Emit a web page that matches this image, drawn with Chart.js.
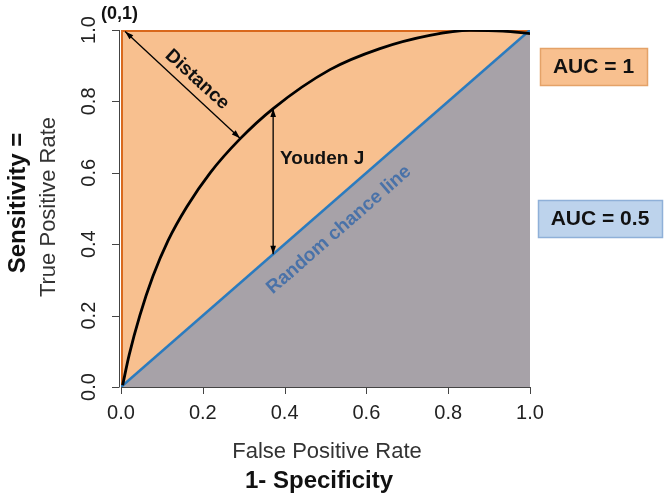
<!DOCTYPE html>
<html>
<head>
<meta charset="utf-8">
<script src="https://cdn.jsdelivr.net/npm/chart.js@4.4.1/dist/chart.umd.min.js"></script>
<style>
  html, body { margin: 0; padding: 0; background: #fff; }
  #wrap { width: 669px; height: 496px; }
</style>
</head>
<body>
<div id="wrap"><canvas id="roc" width="669" height="496"></canvas></div>
<script>
// Data
const tickValues = [0, 0.2, 0.4, 0.6, 0.8, 1.0];
const tickLabels = ['0.0', '0.2', '0.4', '0.6', '0.8', '1.0'];

const rocFpr = [0.004, 0.02, 0.046, 0.078, 0.115, 0.161, 0.218, 0.291, 0.372, 0.511, 0.633, 0.755, 0.853, 0.934, 1.0];
const rocTpr = [0.005, 0.09, 0.2, 0.31, 0.41, 0.505, 0.6, 0.695, 0.78, 0.889, 0.948, 0.985, 0.999, 0.997, 0.99];

const chanceFpr = [0, 1];
const chanceTpr = [0, 1];

const perfectFpr = [0, 0, 1];
const perfectTpr = [0, 1, 1];

const youdenFpr = [0.372, 0.372];
const youdenTpr = [0.78, 0.372];

const distanceFpr = [0.01, 0.291];
const distanceTpr = [0.996, 0.697];

// Colours
const PEACH = '#f8c08f';
const GREY = '#a7a2a8';
const ORANGE = '#d9681c';
const BLUE = '#2b7bbf';
const FONT = "'Liberation Sans', Arial, sans-serif";

const pts = (xs, ys) => xs.map((x, i) => ({ x, y: ys[i] }));

// arrow head at (x1,y1) pointing away from (x0,y0)
function head(ctx, x0, y0, x1, y1) {
  const a = Math.atan2(y1 - y0, x1 - x0);
  const len = 9, w = 0.32;
  ctx.beginPath();
  ctx.moveTo(x1, y1);
  ctx.lineTo(x1 - len * Math.cos(a - w), y1 - len * Math.sin(a - w));
  ctx.lineTo(x1 - len * Math.cos(a + w), y1 - len * Math.sin(a + w));
  ctx.closePath();
  ctx.fill();
}

const decorations = {
  id: 'decorations',
  afterDatasetsDraw(chart) {
    const { ctx, chartArea, scales } = chart;
    const xs = scales.x, ys = scales.y;
    const left = chartArea.left, bottom = chartArea.bottom, top = chartArea.top;
    ctx.save();

    // arrow heads
    ctx.fillStyle = '#000';
    const arrows = [[youdenFpr, youdenTpr], [distanceFpr, distanceTpr]];
    arrows.forEach(([ax, ay]) => {
      const x0 = xs.getPixelForValue(ax[0]), y0 = ys.getPixelForValue(ay[0]);
      const x1 = xs.getPixelForValue(ax[1]), y1 = ys.getPixelForValue(ay[1]);
      head(ctx, x0, y0, x1, y1);
      head(ctx, x1, y1, x0, y0);
    });

    // axes
    ctx.strokeStyle = '#444';
    ctx.lineWidth = 1;
    ctx.beginPath();
    ctx.moveTo(xs.getPixelForValue(0), bottom + 0.5);
    ctx.lineTo(xs.getPixelForValue(1), bottom + 0.5);
    tickValues.forEach(v => {
      const px = Math.round(xs.getPixelForValue(v)) + 0.5;
      ctx.moveTo(px, bottom);
      ctx.lineTo(px, bottom + 7);
    });
    ctx.moveTo(left - 1.5, ys.getPixelForValue(0));
    ctx.lineTo(left - 1.5, ys.getPixelForValue(1));
    tickValues.forEach(v => {
      const py = Math.round(ys.getPixelForValue(v)) + 0.5;
      ctx.moveTo(left - 1.5, py);
      ctx.lineTo(left - 9, py);
    });
    ctx.stroke();

    // tick labels
    ctx.fillStyle = '#222';
    ctx.font = '20px ' + FONT;
    ctx.textAlign = 'center';
    ctx.textBaseline = 'middle';
    tickValues.forEach((v, i) => {
      ctx.fillText(tickLabels[i], xs.getPixelForValue(v), bottom + 26);
      ctx.save();
      ctx.translate(left - 32, ys.getPixelForValue(v));
      ctx.rotate(-Math.PI / 2);
      ctx.fillText(tickLabels[i], 0, 0);
      ctx.restore();
    });

    // axis titles
    ctx.fillStyle = '#333';
    ctx.font = '22px ' + FONT;
    ctx.fillText('False Positive Rate', 327, 452);
    ctx.fillStyle = '#111';
    ctx.font = 'bold 24px ' + FONT;
    ctx.fillText('1- Specificity', 319, 481);

    ctx.save();
    ctx.translate(49, 207);
    ctx.rotate(-Math.PI / 2);
    ctx.fillStyle = '#333';
    ctx.font = '22px ' + FONT;
    ctx.fillText('True Positive Rate', 0, 0);
    ctx.restore();

    ctx.save();
    ctx.translate(18, 203);
    ctx.rotate(-Math.PI / 2);
    ctx.fillStyle = '#111';
    ctx.font = 'bold 24px ' + FONT;
    ctx.fillText('Sensitivity =', 0, 0);
    ctx.restore();

    // (0,1) corner label
    ctx.fillStyle = '#111';
    ctx.font = 'bold 18px ' + FONT;
    ctx.textAlign = 'left';
    ctx.textBaseline = 'alphabetic';
    ctx.fillText('(0,1)', left - 20, top - 11);

    // Distance label
    ctx.save();
    ctx.translate(xs.getPixelForValue(0.186), ys.getPixelForValue(0.861));
    ctx.rotate(Math.atan2(105, 115));
    ctx.textAlign = 'center';
    ctx.textBaseline = 'middle';
    ctx.font = 'bold 19px ' + FONT;
    ctx.fillText('Distance', 0, 0);
    ctx.restore();

    // Youden J label
    ctx.textAlign = 'left';
    ctx.textBaseline = 'middle';
    ctx.font = 'bold 19px ' + FONT;
    ctx.fillText('Youden J', xs.getPixelForValue(0.389), ys.getPixelForValue(0.64));

    // Random chance line label
    const ang = Math.atan2(ys.getPixelForValue(1) - ys.getPixelForValue(0), xs.getPixelForValue(1) - xs.getPixelForValue(0));
    ctx.save();
    ctx.translate(xs.getPixelForValue(0.533), ys.getPixelForValue(0.44));
    ctx.rotate(ang);
    ctx.textAlign = 'center';
    ctx.fillStyle = '#4a72a8';
    ctx.font = 'bold 19px ' + FONT;
    ctx.fillText('Random chance line', 0, 0);
    ctx.restore();

    // AUC boxes
    const box = (x, y, w, h, fill, stroke, text) => {
      ctx.fillStyle = fill;
      ctx.fillRect(x, y, w, h);
      ctx.strokeStyle = stroke;
      ctx.lineWidth = 1.5;
      ctx.strokeRect(x + 0.5, y + 0.5, w, h);
      ctx.fillStyle = '#111';
      ctx.font = 'bold 21px ' + FONT;
      ctx.textAlign = 'center';
      ctx.textBaseline = 'middle';
      ctx.fillText(text, x + w / 2, y + h / 2 + 1);
    };
    box(540, 48, 107, 37, PEACH, '#e4a268', 'AUC = 1');
    box(538, 200, 124, 37, '#bdd3ec', '#8fb0d8', 'AUC = 0.5');

    ctx.restore();
  }
};

new Chart(document.getElementById('roc'), {
  type: 'scatter',
  data: {
    datasets: [
      { label: 'perfect area', data: pts([0, 1], [1, 1]), showLine: true, fill: 'origin',
        backgroundColor: PEACH, borderWidth: 0, pointRadius: 0, order: 6 },
      { label: 'perfect', data: pts(perfectFpr, perfectTpr), showLine: true, fill: false,
        borderColor: ORANGE, borderWidth: 4, pointRadius: 0, order: 5 },
      { label: 'chance', data: pts(chanceFpr, chanceTpr), showLine: true, fill: 'origin',
        backgroundColor: GREY, borderColor: BLUE, borderWidth: 2.5, pointRadius: 0, order: 4 },
      { label: 'roc', data: pts(rocFpr, rocTpr), showLine: true, fill: false,
        cubicInterpolationMode: 'monotone',
        borderColor: '#000', borderWidth: 2.8, pointRadius: 0, order: 2 },
      { label: 'youden', data: pts(youdenFpr, youdenTpr), showLine: true, fill: false,
        borderColor: '#000', borderWidth: 1.3, pointRadius: 0, order: 1 },
      { label: 'distance', data: pts(distanceFpr, distanceTpr), showLine: true, fill: false,
        borderColor: '#000', borderWidth: 1.3, pointRadius: 0, order: 1 }
    ]
  },
  options: {
    responsive: false,
    animation: false,
    events: [],
    layout: { padding: { left: 121, right: 139, top: 30, bottom: 109 } },
    plugins: { legend: { display: false }, tooltip: { enabled: false } },
    scales: {
      x: { type: 'linear', min: 0, max: 1, display: false },
      y: { type: 'linear', min: 0, max: 1, display: false }
    }
  },
  plugins: [decorations]
});
</script>
</body>
</html>
